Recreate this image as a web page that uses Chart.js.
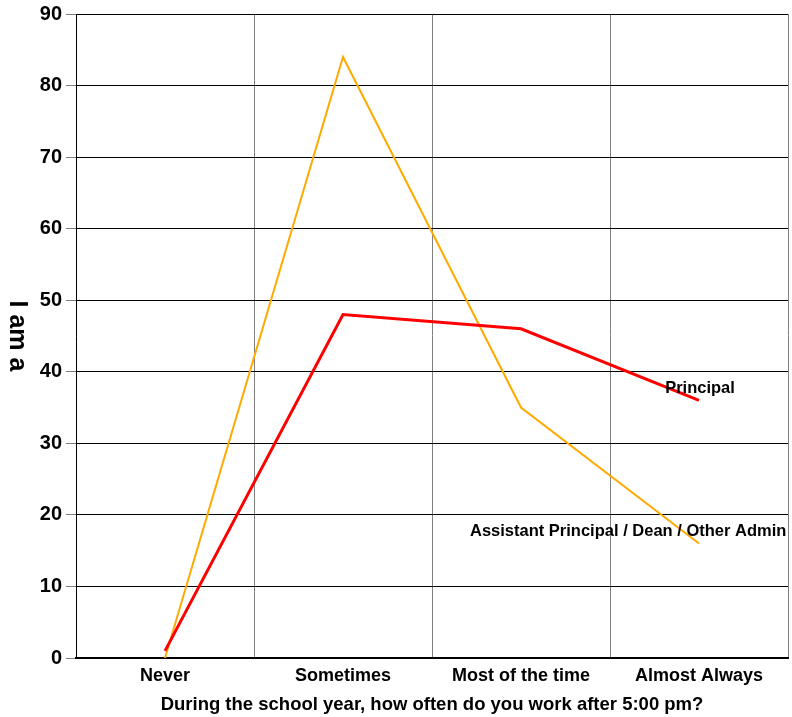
<!DOCTYPE html>
<html>
<head>
<meta charset="utf-8">
<script src="https://cdn.jsdelivr.net/npm/chart.js@4/dist/chart.umd.min.js"></script>
<style>
  body { margin: 0; background: #fff; }
  canvas { display: block; }
</style>
</head>
<body>
<canvas id="chart" width="792" height="717"></canvas>
<script>
const categories = ['Never', 'Sometimes', 'Most of the time', 'Almost Always'];
const principal = [1, 48, 46, 36];
const assistant = [0, 84, 35, 16];
const yTicks = [0, 10, 20, 30, 40, 50, 60, 70, 80, 90];

const font = 'Liberation Sans, Arial, sans-serif';

// labels drawn next to the last point of each line, plus the y title
const extras = {
    id: 'extras',
    afterDatasetsDraw(chart) {
        const ctx = chart.ctx;
        ctx.save();
        ctx.fillStyle = '#000';
        ctx.font = 'bold 16.5px ' + font;
        ctx.textBaseline = 'middle';

        const p = chart.getDatasetMeta(0).data[3];
        ctx.textAlign = 'center';
        ctx.fillText('Principal', p.x + 1, p.y - 12);

        const a = chart.getDatasetMeta(1).data[3];
        ctx.textAlign = 'left';
        ctx.fillText('Assistant Principal / Dean / Other Admin', a.x - 229, a.y - 12);

        // y title reads top to bottom
        ctx.font = 'bold 25px ' + font;
        ctx.translate(17, 336);
        ctx.rotate(Math.PI / 2);
        ctx.textAlign = 'center';
        ctx.fillText('I am a', 0, 0);
        ctx.restore();
    }
};

new Chart(document.getElementById('chart'), {
    type: 'line',
    data: {
        labels: categories,
        datasets: [{
            label: 'Principal',
            data: principal,
            borderColor: '#ff0000',
            borderWidth: 3,
            pointRadius: 0,
            tension: 0
        }, {
            label: 'Assistant Principal / Dean / Other Admin',
            data: assistant,
            borderColor: '#ffaa00',
            borderWidth: 2,
            pointRadius: 0,
            tension: 0
        }]
    },
    options: {
        responsive: false,
        animation: false,
        layout: { padding: { left: 0, top: 14, right: 4, bottom: 0 } },
        plugins: {
            legend: { display: false },
            tooltip: { enabled: false }
        },
        scales: {
            x: {
                offset: true,
                grid: { offset: true, color: '#808080', lineWidth: 1, drawTicks: false },
                border: { color: '#000', width: 2 },
                ticks: { color: '#000', font: { family: font, size: 18, weight: 'bold' }, padding: 7, maxRotation: 0 },
                title: {
                    display: true,
                    text: 'During the school year, how often do you work after 5:00 pm?',
                    color: '#000',
                    font: { family: font, size: 18.5, weight: 'bold' },
                    padding: { top: 4, bottom: 1 }
                },
                afterFit(scale) { scale.height = 59; }
            },
            y: {
                min: 0,
                max: 90,
                afterBuildTicks(scale) { scale.ticks = yTicks.map(v => ({ value: v })); },
                grid: { color: '#000', lineWidth: 1, tickLength: 10, tickColor: '#808080' },
                border: { color: '#000', width: 1 },
                ticks: { color: '#000', font: { family: font, size: 20, weight: 'bold', lineHeight: 1 }, padding: 4 },
                afterFit(scale) { scale.width = 76; }
            }
        }
    },
    plugins: [extras]
});
</script>
</body>
</html>
